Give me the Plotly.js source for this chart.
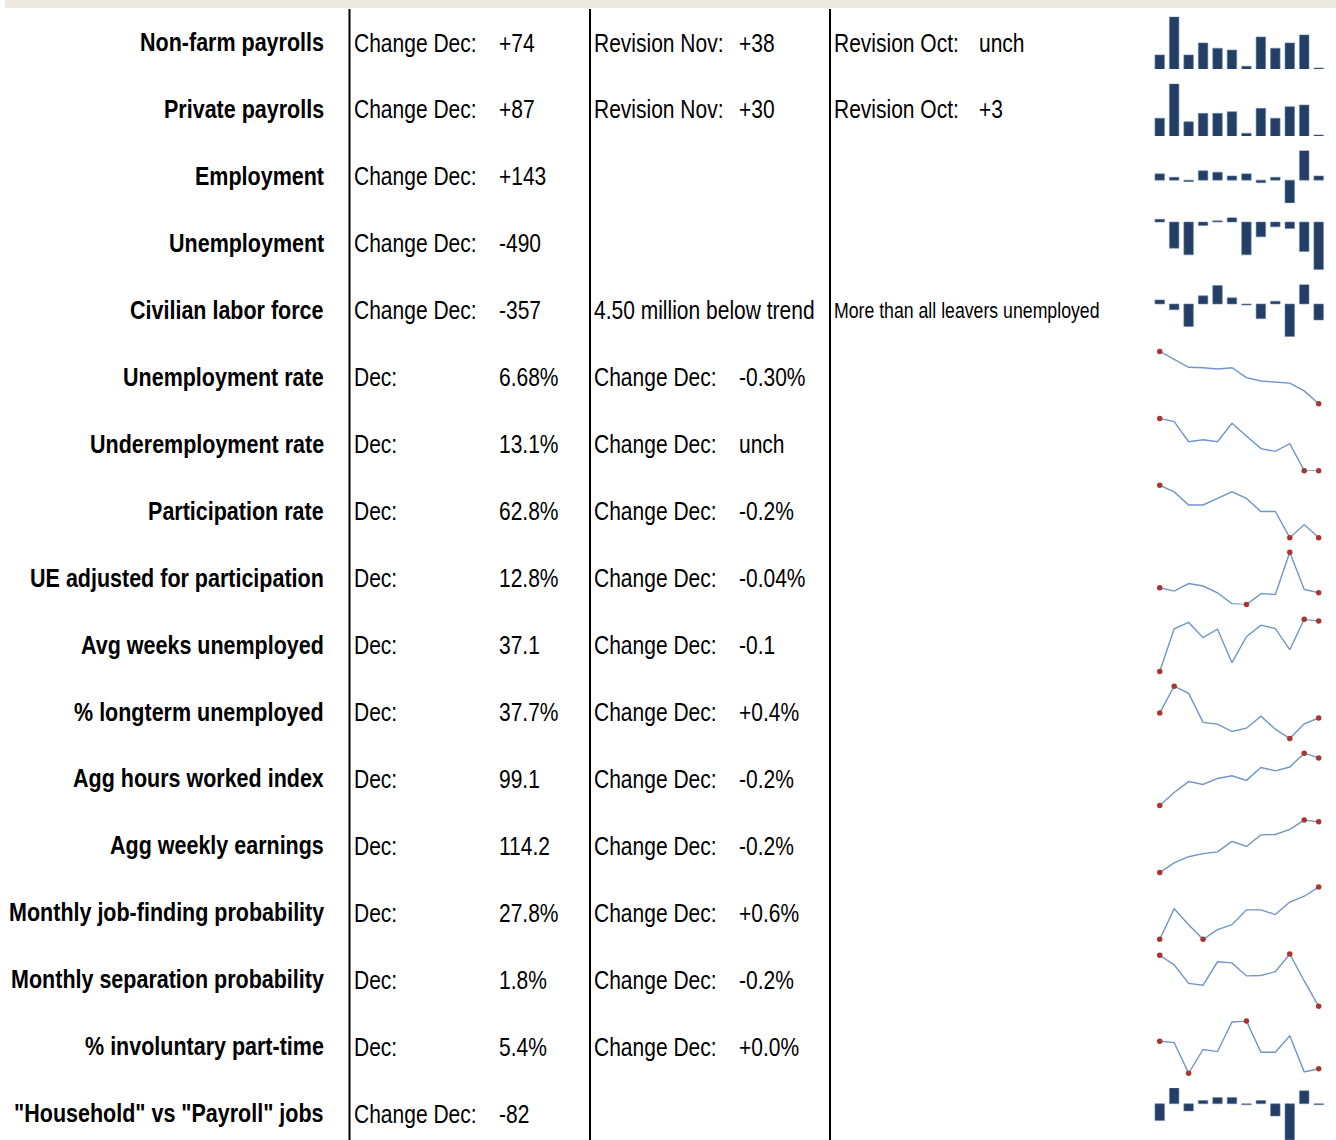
<!DOCTYPE html>
<html>
<head>
<meta charset="utf-8">
<script src="https://cdn.plot.ly/plotly-3.0.1.min.js"></script>
<style>html,body{margin:0;padding:0;background:#fff;}#chart{width:1336px;height:1140px;}</style>
</head>
<body>
<div id="chart"></div>
<script>
// ---------- DATA ----------
const months = ['Jan','Feb','Mar','Apr','May','Jun','Jul','Aug','Sep','Oct','Nov','Dec'];

const rowLabels = ['Non-farm payrolls','Private payrolls','Employment','Unemployment','Civilian labor force',
  'Unemployment rate','Underemployment rate','Participation rate','UE adjusted for participation',
  'Avg weeks unemployed','% longterm unemployed','Agg hours worked index','Agg weekly earnings',
  'Monthly job-finding probability','Monthly separation probability','% involuntary part-time',
  '"Household" vs "Payroll" jobs'];
const col1Label = ['Change Dec:','Change Dec:','Change Dec:','Change Dec:','Change Dec:',
  'Dec:','Dec:','Dec:','Dec:','Dec:','Dec:','Dec:','Dec:','Dec:','Dec:','Dec:','Change Dec:'];
const col1Value = ['+74','+87','+143','-490','-357','6.68%','13.1%','62.8%','12.8%','37.1','37.7%',
  '99.1','114.2','27.8%','1.8%','5.4%','-82'];
const col2Label = ['Revision Nov:','Revision Nov:','','','4.50 million below trend',
  'Change Dec:','Change Dec:','Change Dec:','Change Dec:','Change Dec:','Change Dec:','Change Dec:',
  'Change Dec:','Change Dec:','Change Dec:','Change Dec:',''];
const col2Value = ['+38','+30','','','','-0.30%','unch','-0.2%','-0.04%','-0.1','+0.4%','-0.2%',
  '-0.2%','+0.6%','-0.2%','+0.0%',''];
const col3Label = ['Revision Oct:','Revision Oct:','','','More than all leavers unemployed',
  '','','','','','','','','','','',''];
const col3Value = ['unch','+3','','','','','','','','','','','','','','',''];

// sparkline series (Jan..Dec)
const nonfarmPayrolls   = [133, 305, 133, 187, 163, 155, 82, 214, 163, 187, 223, 74];
const privatePayrolls   = [157, 301, 142, 177, 177, 184, 94, 198, 157, 205, 212, 87];
const employment        = [212, 97, -51, 315, 269, 143, 212, -86, 97, -772, 1001, 143];
const unemployment      = [29, -268, -336, -36, 12, 46, -336, -152, -49, -66, -302, -490];
const laborForce        = [91, -129, -502, 182, 410, 137, -23, -327, 61, -730, 433, -357];
const unemploymentRate  = [7.90, 7.72, 7.53, 7.52, 7.49, 7.52, 7.29, 7.21, 7.18, 7.16, 6.98, 6.68];
const underemployment   = [14.40, 14.32, 13.82, 13.87, 13.82, 14.28, 13.96, 13.65, 13.58, 13.77, 13.10, 13.10];
const participationRate = [63.6, 63.5, 63.3, 63.3, 63.4, 63.5, 63.4, 63.2, 63.2, 62.8, 63.0, 62.8];
const ueAdjusted        = [12.86, 12.82, 12.91, 12.88, 12.80, 12.67, 12.66, 12.79, 12.78, 13.28, 12.84, 12.80];
const avgWeeks          = [34.88, 36.76, 37.04, 36.37, 36.74, 35.27, 36.41, 36.92, 36.77, 35.84, 37.18, 37.10];
const longtermShare     = [38.05, 39.89, 39.40, 37.40, 37.28, 36.77, 37.00, 37.82, 36.93, 36.29, 37.30, 37.70];
const aggHours          = [97.11, 97.65, 98.11, 97.99, 98.24, 98.35, 98.16, 98.70, 98.56, 98.72, 99.30, 99.10];
const aggEarnings       = [109.02, 110.00, 110.63, 110.94, 111.12, 112.20, 111.68, 112.87, 112.91, 113.43, 114.38, 114.20];
const jobFinding        = [24.38, 26.38, 25.34, 24.38, 25.02, 25.34, 26.31, 26.31, 26.00, 26.82, 27.20, 27.80];
const separation        = [2.203, 2.127, 1.981, 1.967, 2.151, 2.143, 2.040, 2.043, 2.073, 2.213, 2.000, 1.800];
const involuntaryPT     = [5.640, 5.628, 5.361, 5.568, 5.550, 5.808, 5.817, 5.544, 5.544, 5.688, 5.373, 5.400];
const householdVsPayroll= [-364, 343, -154, 70, 133, 133, -21, 70, -266, -784, 280, -21];

const sparkSeries = [nonfarmPayrolls, privatePayrolls, employment, unemployment, laborForce,
  unemploymentRate, underemployment, participationRate, ueAdjusted, avgWeeks, longtermShare,
  aggHours, aggEarnings, jobFinding, separation, involuntaryPT, householdVsPayroll];
const sparkType = ['bar','bar','bar','bar','bar','line','line','line','line','line','line',
  'line','line','line','line','line','bar'];

// ---------- LAYOUT ----------
const W = 1336, H = 1140;
const FONT = '"Liberation Sans", Arial, sans-serif';
const rowPitch = 66.95, firstCenter = 43;
const sparkTop0 = 16.7, sparkBot0 = 69;
const sparkX0 = 1152.5, sparkX1 = 1325.9;

const BAR = '#233f66', LINE = '#6f95c9', MARK = '#a8362f';

const traces = [];
const layout = {
  width: W, height: H,
  margin: {l: 0, r: 0, t: 0, b: 0},
  paper_bgcolor: '#ffffff', plot_bgcolor: 'rgba(0,0,0,0)',
  showlegend: false, bargap: 0.34,
  annotations: [], shapes: []
};

const py = y => 1 - y / H;
const px = x => x / W;

sparkSeries.forEach((vals, i) => {
  const n = i + 1;
  const xa = 'xaxis' + (n === 1 ? '' : n), ya = 'yaxis' + (n === 1 ? '' : n);
  const xr = 'x' + (n === 1 ? '' : n), yr = 'y' + (n === 1 ? '' : n);
  const top = sparkTop0 + rowPitch * i;
  const bot = Math.min(H, sparkBot0 + rowPitch * i);
  let lo = Math.min(...vals), hi = Math.max(...vals);
  if (sparkType[i] === 'bar' && lo > 0) lo = lo - 0.02 * (hi - lo);
  layout[xa] = {domain: [px(sparkX0), px(sparkX1)], range: [-0.5, 11.5], visible: false, fixedrange: true, type: 'category'};
  layout[ya] = {domain: [py(bot), py(top)], range: [lo, hi], visible: false, fixedrange: true};
  if (sparkType[i] === 'bar') {
    traces.push({type: 'bar', x: months, y: vals, xaxis: xr, yaxis: yr,
      marker: {color: BAR, line: {color: '#6f86a8', width: 0.6}}, hoverinfo: 'skip'});
  } else {
    traces.push({type: 'scatter', mode: 'lines', x: months, y: vals, xaxis: xr, yaxis: yr,
      line: {color: LINE, width: 1.4}, cliponaxis: false, hoverinfo: 'skip'});
    const mx = Math.max(...vals), mn = Math.min(...vals);
    const mxs = [], mys = [];
    vals.forEach((v, k) => {
      if (k === 0 || k === vals.length - 1 || v === mx || v === mn) { mxs.push(months[k]); mys.push(v); }
    });
    traces.push({type: 'scatter', mode: 'markers', x: mxs, y: mys, xaxis: xr, yaxis: yr,
      marker: {color: MARK, size: 5.5}, cliponaxis: false, hoverinfo: 'skip'});
  }
});

// text
const addText = (txt, x, yc, anchor, size, bold) => {
  if (!txt) return;
  layout.annotations.push({
    text: bold ? '<b>' + txt + '</b>' : txt,
    xref: 'paper', yref: 'paper', x: px(x), y: py(yc),
    xanchor: anchor, yanchor: 'middle', showarrow: false, borderpad: 0,
    font: {family: FONT, size: size, color: '#000'}
  });
};
rowLabels.forEach((lab, i) => {
  const yc = firstCenter + rowPitch * i;
  addText(lab, 325, yc, 'right', 21.5, true);
  addText(col1Label[i], 353, yc, 'left', 21, false);
  addText(col1Value[i], 498, yc, 'left', 21, false);
  addText(col2Label[i], 593, yc, 'left', 21, false);
  addText(col2Value[i], 738, yc, 'left', 21, false);
  addText(col3Label[i], 833, yc, 'left', i === 4 ? 17.7 : 21, false);
  addText(col3Value[i], 978, yc, 'left', 21, false);
});

// top band & separators
layout.shapes.push({type: 'rect', xref: 'paper', yref: 'paper', x0: px(5), x1: 1, y0: py(8), y1: 1,
  fillcolor: '#ebe8dd', line: {width: 0}, layer: 'below'});
[349.5, 590, 830].forEach(x => layout.shapes.push({type: 'line', xref: 'paper', yref: 'paper',
  x0: px(x), x1: px(x), y0: 0, y1: py(9), line: {color: '#000', width: 2}}));

Plotly.newPlot('chart', traces, layout, {staticPlot: true, displayModeBar: false}).then(gd => {
  // the reference uses a tall, condensed face: stretch annotation text vertically about its centre
  gd.querySelectorAll('text.annotation-text').forEach(el => {
    const bb = el.getBBox();
    const cy = bb.y + bb.height / 2;
    el.setAttribute('transform', 'translate(0 ' + cy + ') scale(1 1.2) translate(0 ' + (-cy) + ')');
  });
});
</script>
</body>
</html>
